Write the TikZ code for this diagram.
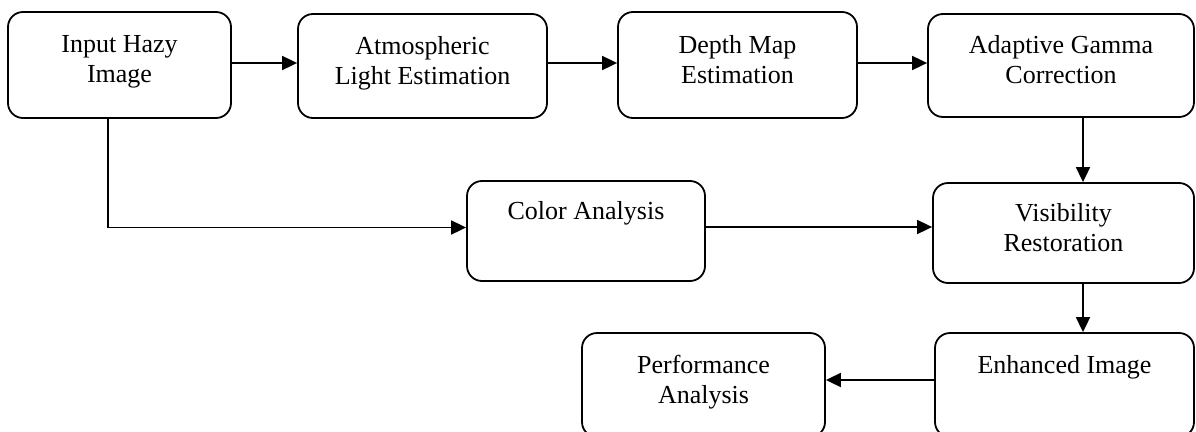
\documentclass[tikz,border=0pt]{standalone}
\usepackage{fontspec}
\setmainfont{Liberation Serif}
\usetikzlibrary{arrows.meta}
\newcommand{\lowpad}{\rule[-12pt]{0pt}{12pt}}

\begin{document}
\begin{tikzpicture}[x=1pt,y=-1pt,
    blk/.style={draw, rounded corners=15pt, line width=1.8pt, align=center,
      inner sep=0pt, font=\fontsize{26}{30}\selectfont},
    arr/.style={line width=1.8pt, -{Triangle[length=15pt,width=14pt]}}]
\useasboundingbox (0,0) rectangle (1196,431);
\clip (0,0) rectangle (1196,431);

% top row
\node (inp) [blk, minimum width=223pt, minimum height=106pt] at (119.5,65)
    {Input Hazy\\Image\lowpad};
\node (atm) [blk, minimum width=249pt, minimum height=104pt] at (422.5,66)
    {Atmospheric\\Light Estimation\lowpad};
\node (depth) [blk, minimum width=239pt, minimum height=106pt] at (737.5,65)
    {Depth Map\\Estimation\lowpad};
\node (gamma) [blk, minimum width=266pt, minimum height=103pt] at (1061,65.5)
    {Adaptive Gamma\\Correction\lowpad};

% middle row
\node (color) [blk, minimum width=238pt, minimum height=100pt] at (586,231)
    {Color Analysis\\\lowpad};
\node (vis) [blk, minimum width=261pt, minimum height=100pt] at (1063.5,233)
    {Visibility\\Restoration\lowpad};

% bottom row
\node (enh) [blk, minimum width=259pt, minimum height=104pt] at (1064.5,385)
    {Enhanced Image\\\lowpad};
\node (perf) [blk, minimum width=243pt, minimum height=104pt] at (703.5,385)
    {Performance\\Analysis\lowpad};

\draw[arr] ([yshift=2pt]inp.east) -- ([yshift=2pt]inp.east -| atm.west);
\draw[arr] ([yshift=3pt]atm.east) -- ([yshift=3pt]atm.east -| depth.west);
\draw[arr] ([yshift=2pt]depth.east) -- ([yshift=2pt]depth.east -| gamma.west);
\draw[arr] ([xshift=22pt]gamma.south) -- ([xshift=22pt]gamma.south |- vis.north);
\draw[arr] ([xshift=-11.5pt]inp.south) |- ([yshift=3.5pt]color.west);
\draw[arr] ([yshift=4pt]color.east) -- ([yshift=4pt]color.east -| vis.west);
\draw[arr] ([xshift=19.5pt]vis.south) -- ([xshift=19.5pt]vis.south |- enh.north);
\draw[arr] ([yshift=5pt]enh.west) -- ([yshift=5pt]enh.west -| perf.east);

\end{tikzpicture}
\end{document}
